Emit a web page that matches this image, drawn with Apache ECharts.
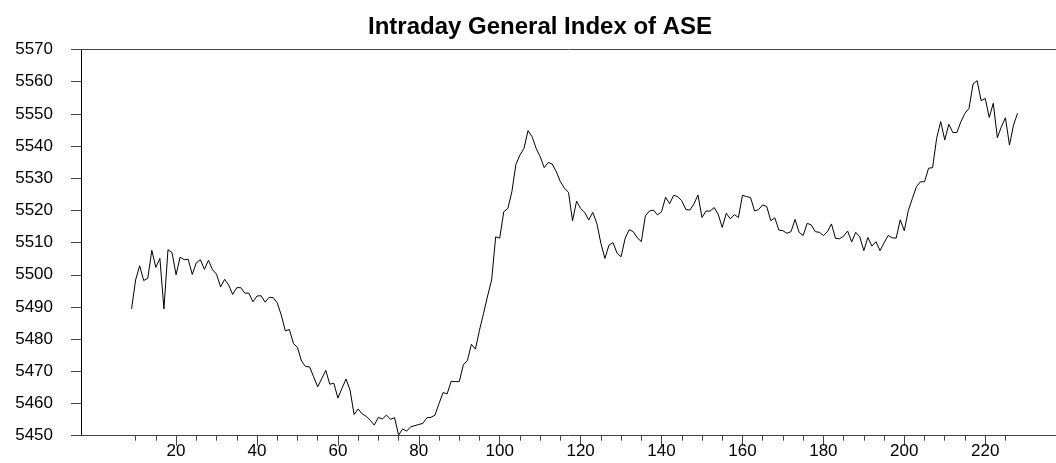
<!DOCTYPE html>
<html>
<head>
<meta charset="utf-8">
<script src="https://cdn.jsdelivr.net/npm/echarts@6/dist/echarts.min.js"></script>
<style>
  html, body { margin: 0; padding: 0; background: #fff; }
  #ase-chart { width: 1056px; height: 463px; }
</style>
</head>
<body>
<div id="ase-chart"></div>
<script>
// first observation of the session (minute index)
var firstMinute = 9;

// ASE general index, one value per minute from firstMinute on
var indexValues = [
    5489.4, 5498.4, 5502.8, 5498.2, 5498.9, 5507.6, 5502.3, 5505.1, 5489.4, 5507.8,
    5506.9, 5500.0, 5505.5, 5504.7, 5504.8, 5500.1, 5503.7, 5504.7, 5501.7, 5504.5,
    5501.6, 5500.2, 5496.2, 5498.6, 5496.8, 5493.9, 5496.0, 5496.0, 5494.3, 5494.3,
    5491.6, 5493.4, 5493.5, 5491.5, 5493.0, 5492.9, 5491.3, 5487.5, 5482.6, 5483.0,
    5478.7, 5477.4, 5473.2, 5471.5, 5471.4, 5468.3, 5465.2, 5467.7, 5470.3, 5466.0,
    5466.3, 5461.7, 5464.7, 5467.6, 5464.2, 5456.6, 5458.3, 5456.8, 5456.0, 5454.8,
    5453.3, 5455.7, 5455.2, 5456.4, 5455.1, 5455.6, 5450.2, 5452.1, 5451.4, 5452.8,
    5453.1, 5453.5, 5453.8, 5455.6, 5455.7, 5456.4, 5460.0, 5463.4, 5463.0, 5466.9,
    5466.8, 5466.8, 5472.0, 5473.3, 5478.4, 5476.9, 5482.8, 5488.0, 5493.4, 5498.4,
    5511.8, 5511.4, 5519.6, 5520.6, 5525.8, 5534.3, 5537.2, 5539.3, 5544.8, 5542.9,
    5539.3, 5536.7, 5533.3, 5534.9, 5534.4, 5532.0, 5528.9, 5526.9, 5525.6, 5516.8,
    5522.9, 5520.6, 5519.4, 5517.0, 5519.4, 5516.0, 5509.8, 5505.1, 5509.2, 5510.0,
    5506.7, 5505.6, 5511.3, 5514.0, 5513.4, 5511.5, 5510.3, 5518.3, 5519.8, 5520.1,
    5518.6, 5519.6, 5524.1, 5522.1, 5524.7, 5524.3, 5523.0, 5520.3, 5520.1, 5522.0,
    5524.8, 5517.8, 5519.8, 5519.8, 5520.9, 5518.8, 5514.7, 5519.1, 5517.4, 5518.7,
    5517.8, 5524.7, 5524.3, 5524.0, 5519.8, 5520.3, 5521.7, 5521.2, 5516.8, 5517.7,
    5513.9, 5513.7, 5512.9, 5513.4, 5517.2, 5513.2, 5512.2, 5516.0, 5515.5, 5513.4,
    5513.2, 5512.2, 5513.4, 5515.8, 5511.3, 5511.2, 5512.0, 5513.6, 5510.2, 5513.2,
    5511.8, 5507.5, 5511.6, 5508.9, 5510.3, 5507.5, 5509.9, 5512.2, 5511.5, 5511.4,
    5517.1, 5513.7, 5520.0, 5523.7, 5527.4, 5528.9, 5528.9, 5533.1, 5533.3, 5542.4,
    5547.6, 5541.9, 5546.8, 5544.2, 5544.2, 5547.6, 5550.2, 5551.7, 5559.3, 5560.3,
    5554.1, 5554.8, 5548.9, 5553.3, 5542.6, 5546.0, 5548.8, 5540.3, 5546.5, 5550.2
];

// x axis labels / long ticks
var xTickLabels = [20, 40, 60, 80, 100, 120, 140, 160, 180, 200, 220];
// short ticks
var xMinorTicks = [10, 15, 25, 30, 35, 45, 50, 55, 65, 70, 75, 85, 90, 95,
    105, 110, 115, 125, 130, 135, 145, 150, 155, 165, 170, 175, 185, 190, 195,
    205, 210, 215, 225];

var seriesData = [];
for (var i = 0; i < indexValues.length; i++) {
    seriesData.push([firstMinute + i, indexValues[i]]);
}

var myChart = echarts.init(document.getElementById('ase-chart'));

var lineColor = '#444';
var labelFont = 'Liberation Sans, Arial, sans-serif';

option = {
    animation: false,
    backgroundColor: '#fff',
    title: {
        text: 'Intraday General Index of ASE',
        left: 368,
        top: 15,
        padding: 0,
        textStyle: {
            fontFamily: labelFont,
            fontSize: 24,
            fontWeight: 'bold',
            color: '#000'
        }
    },
    grid: {
        left: 81,
        right: 0,
        top: 49.5,
        bottom: 27.3,
        containLabel: false
    },
    xAxis: [
        {
            type: 'value',
            min: -3.5,
            max: 237.5,
            position: 'bottom',
            splitLine: { show: false },
            axisLine: { onZero: false, lineStyle: { color: lineColor, width: 1 } },
            axisTick: {
                customValues: xTickLabels,
                length: 10,
                lineStyle: { color: lineColor }
            },
            axisLabel: {
                customValues: xTickLabels,
                margin: 7,
                color: '#000',
                fontFamily: labelFont,
                fontSize: 17
            }
        },
        {
            // short ticks only
            type: 'value',
            min: -3.5,
            max: 237.5,
            position: 'bottom',
            splitLine: { show: false },
            axisLine: { show: false, onZero: false },
            axisTick: {
                customValues: xMinorTicks,
                length: 5,
                lineStyle: { color: lineColor }
            },
            axisLabel: { show: false }
        },
        {
            // frame line on top
            type: 'value',
            min: -3.5,
            max: 237.5,
            position: 'top',
            splitLine: { show: false },
            axisLine: { show: true, onZero: false, lineStyle: { color: lineColor, width: 1 } },
            axisTick: { show: false },
            axisLabel: { show: false }
        }
    ],
    yAxis: {
        type: 'value',
        min: 5450,
        max: 5570,
        interval: 10,
        splitLine: { show: false },
        axisLine: { show: true, onZero: false, lineStyle: { color: '#000', width: 1 } },
        axisTick: { show: true, length: 10, lineStyle: { color: lineColor } },
        axisLabel: {
            margin: 28,
            color: '#000',
            fontFamily: labelFont,
            fontSize: 17,
            formatter: function (v) { return String(v); }
        }
    },
    series: [{
        type: 'line',
        xAxisIndex: 0,
        data: seriesData,
        showSymbol: false,
        symbol: 'none',
        lineStyle: { color: '#000', width: 1 },
        silent: true
    }]
};

myChart.setOption(option);
</script>
</body>
</html>
